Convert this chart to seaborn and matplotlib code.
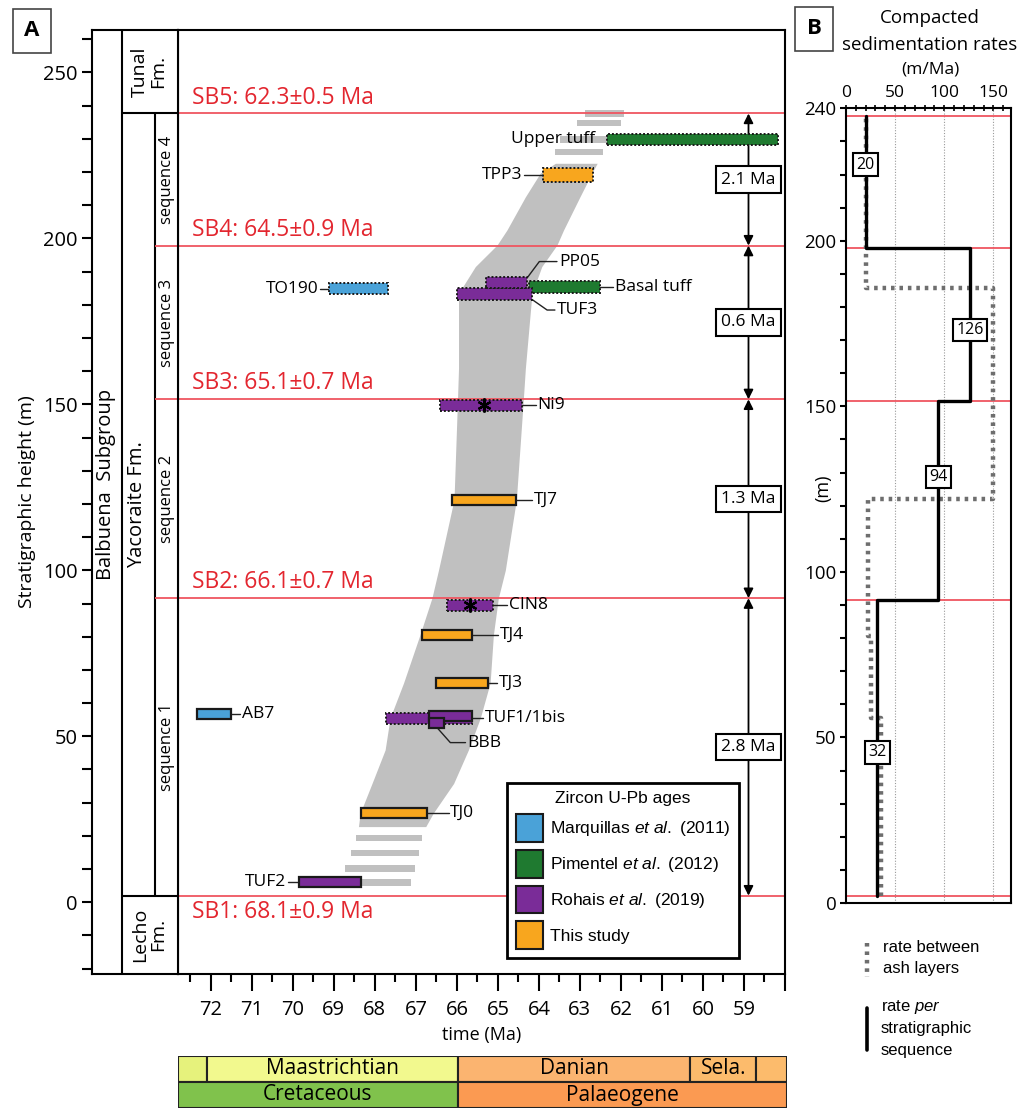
import numpy as np
import pandas as pd
import matplotlib
matplotlib.use("Agg")
import matplotlib.pyplot as plt
import seaborn as sns
from matplotlib.patches import Patch
from matplotlib.lines import Line2D

sns.set_theme(style="ticks")
plt.rcParams["font.family"] = ["Open Sans", "DejaVu Sans"]
plt.rcParams.update({
    "axes.edgecolor": "black", "xtick.color": "black", "ytick.color": "black",
    "text.color": "black", "axes.labelcolor": "black",
    "mathtext.fontset": "custom", "mathtext.rm": "Liberation Sans",
    "mathtext.it": "Liberation Sans:italic",
})

# ---------------- data ----------------
sb_heights = [2.0, 91.6, 151.5, 197.8, 237.6]
sb_labels = ["SB1: 68.1\u00b10.9 Ma", "SB2: 66.1\u00b10.7 Ma", "SB3: 65.1\u00b10.7 Ma",
             "SB4: 64.5\u00b10.9 Ma", "SB5: 62.3\u00b10.5 Ma"]
seq_names = ["sequence 1", "sequence 2", "sequence 3", "sequence 4"]
seq_durations = ["2.8 Ma", "1.3 Ma", "0.6 Ma", "2.1 Ma"]

sample_names = ["AB7", "TO190", "Upper tuff", "Basal tuff", "TUF2", "TUF1", "TUF1bis", "BBB",
                "CIN8", "Ni9", "TUF3", "PP05", "TJ0", "TJ3", "TJ4", "TJ7", "TPP3"]
sample_old = [72.33, 69.11, 62.34, 64.23, 69.84, 67.72, 66.67, 66.67,
              66.24, 66.41, 65.99, 65.29, 68.34, 66.50, 66.85, 66.11, 63.90]
sample_young = [71.50, 67.67, 58.18, 62.50, 68.34, 65.63, 65.63, 66.31,
                65.12, 64.41, 64.17, 64.28, 66.73, 65.25, 65.63, 64.55, 62.68]
sample_height = [56.6, 184.8, 229.8, 185.3, 6.0, 55.4, 56.1, 54.0,
                 89.5, 149.7, 183.2, 186.6, 26.8, 66.1, 80.6, 121.3, 219.2]
sample_source = ["Marquillas", "Marquillas", "Pimentel", "Pimentel", "Rohais", "Rohais", "Rohais", "Rohais",
                 "Rohais", "Rohais", "Rohais", "Rohais", "This study", "This study", "This study", "This study",
                 "This study"]
sample_dotted = [False, True, True, True, False, True, False, False,
                 True, True, True, True, False, False, False, False, True]
sample_label = ["AB7", "TO190", "Upper tuff", "Basal tuff", "TUF2", "TUF1/1bis", "", "BBB",
                "CIN8", "Ni9", "TUF3", "PP05", "TJ0", "TJ3", "TJ4", "TJ7", "TPP3"]
label_kind = ["r", "l", "l0", "r", "l", "r", "", "elbow",
              "r", "r", "elbow", "elbow", "r", "r", "r", "r", "l"]
leader_len = [0.22, 0.22, 0.28, 0.31, 0.28, 0.27, 0, 0, 0.35, 0.34, 0, 0, 0.53, 0.23, 0.64, 0.38, 0.46]
# elbow leaders: (start age, start height, dx diag, dy diag, dx horizontal)
elbow = {"BBB": (66.49, 52.7, 0.33, -4.6, 0.37),
         "TUF3": (64.17, 181.6, 0.37, -3.2, 0.19),
         "PP05": (64.28, 188.2, 0.29, 4.8, 0.43)}

ast_age = [65.68, 65.33]
ast_height = [89.5, 149.7]

band_h = [22.8, 26.8, 35.8, 45.9, 55.5, 66.1, 80.6, 91.6, 100.0, 121.3, 149.7, 160.9, 183.4,
          191.5, 198.0, 202.5, 212.5, 219.6, 222.6]
band_old = [68.40, 68.36, 68.07, 67.75, 67.63, 67.30, 66.90, 66.61, 66.45, 66.07, 65.99, 65.96, 65.96,
            65.55, 65.02, 64.78, 64.33, 63.97, 63.60]
band_young = [66.76, 66.58, 66.08, 65.72, 65.43, 65.19, 65.11, 64.99, 64.82, 64.55, 64.39, 64.33, 64.17,
              63.93, 63.56, 63.40, 63.00, 62.71, 62.58]
stripe_h = [6.0, 10.2, 14.8, 19.3, 226.0, 229.8, 234.8, 237.6]
stripe_old = [68.82, 68.72, 68.59, 68.45, 63.60, 63.48, 63.06, 62.87]
stripe_young = [67.12, 67.01, 66.92, 66.84, 62.43, 62.33, 61.99, 61.92]

stage_bounds = [72.8, 72.1, 66.0, 60.35, 58.75, 58.0]
stage_names = ["", "Maastrichtian", "Danian", "Sela.", ""]
stage_colors = ["#e6f27c", "#f2f98e", "#fbb470", "#fcbb6c", "#fcbb6c"]
period_bounds = [72.8, 66.0, 58.0]
period_names = ["Cretaceous", "Palaeogene"]
period_colors = ["#80c24c", "#fb9a52"]

seq_bounds = [2.0, 91.6, 151.5, 197.8, 237.6]
seq_rates = [32, 94, 126, 20]
seq_label_h = [45.5, 128.7, 173.0, 223.0]
ash_bounds = [2.0, 56.0, 80.6, 122.0, 185.6, 237.6]
ash_rates = [36, 25, 22, 150, 20]

legend_keys = ["Marquillas", "Pimentel", "Rohais", "This study"]
legend_labels = [r"Marquillas $\mathit{et\ al.}$ (2011)", r"Pimentel $\mathit{et\ al.}$ (2012)",
                 r"Rohais $\mathit{et\ al.}$ (2019)", "This study"]

# ---------------- style ----------------
src_colors = {"Marquillas": "#4aa2d8", "Pimentel": "#1f7a30", "Rohais": "#7a2c98", "This study": "#f8a61e"}
red_line = "#ef5560"
red_text = "#e3262f"
band_color = "#c0c0c0"
LW = 1.5

W, H = 1024, 1117
fig = plt.figure(figsize=(W / 100, H / 100), dpi=100)


def fax(x0, y0, x1, y1):
    return fig.add_axes([x0 / W, 1 - y1 / H, (x1 - x0) / W, (y1 - y0) / H])


ax = fax(178, 29.5, 785, 974)
axc = fax(92, 29.5, 178, 974)
axB = fax(846, 108.3, 1011, 903)
axT = fax(178, 1056, 787, 1108)

ylim = (-21.6, 262.9)
for a in (ax, axc):
    a.set_ylim(*ylim)
    for s in a.spines.values():
        s.set_linewidth(LW)
        s.set_visible(True)

# ---------------- panel A main ----------------
ax.set_xlim(72.8, 58.0)
ax.fill_betweenx(band_h, band_old, band_young, color=band_color, lw=0, zorder=1)
ax.barh(stripe_h, np.array(stripe_young) - np.array(stripe_old), left=stripe_old, height=1.9,
        color=band_color, lw=0, zorder=1)
for h in sb_heights:
    ax.axhline(h, color=red_line, lw=1.3, zorder=2)
for h, lab in zip(sb_heights, sb_labels):
    off = -4.8 if h < 10 else 4.8
    ax.text(72.46, h + off, lab, color=red_text, fontsize=16.5, ha="left", va="center", zorder=3)

for i, name in enumerate(sample_names):
    col = src_colors[sample_source[i]]
    dotted = sample_dotted[i]
    th = 3.4 if dotted else 3.0
    if name == "TPP3":
        th = 4.2
    ax.barh(sample_height[i], sample_young[i] - sample_old[i], left=sample_old[i], height=th,
            color=col, edgecolor="#1a1a1a", lw=1.4 if dotted else 1.6,
            linestyle=(0, (1, 1)) if dotted else "-", zorder=5)

ax.plot(ast_age, ast_height, ls="none", marker=(6, 2, 0), ms=10, mew=1.6, color="black", zorder=6)

for i, name in enumerate(sample_label):
    if not name:
        continue
    h, old, young, kind, L = sample_height[i], sample_old[i], sample_young[i], label_kind[i], leader_len[i]
    kw = dict(fontsize=12.5, va="center", zorder=7)
    if kind == "r":
        ax.plot([young, young - L], [h, h], color="#222", lw=1, zorder=4)
        ax.text(young - L - 0.04, h, name, ha="left", **kw)
    elif kind == "l":
        ax.plot([old, old + L], [h, h], color="#222", lw=1, zorder=4)
        ax.text(old + L + 0.04, h, name, ha="right", **kw)
    elif kind == "l0":
        ax.text(old + L, h, name, ha="right", **kw)
    else:
        x0, y0, dx, dy, dx2 = elbow[sample_names[i]]
        ax.plot([x0, x0 - dx, x0 - dx - dx2], [y0, y0 + dy, y0 + dy], color="#222", lw=1, zorder=4)
        ax.text(x0 - dx - dx2 - 0.05, y0 + dy, name, ha="left", **kw)

arrow_x = 58.89
for k in range(4):
    lo, hi = seq_bounds[k], seq_bounds[k + 1]
    ax.annotate("", xy=(arrow_x, lo), xytext=(arrow_x, hi),
                arrowprops=dict(arrowstyle="<|-|>", color="black", lw=1.3, shrinkA=0, shrinkB=0,
                                mutation_scale=14), zorder=4)
    ax.text(arrow_x, (lo + hi) / 2, seq_durations[k], ha="center", va="center", fontsize=12.5, zorder=6,
            bbox=dict(boxstyle="square,pad=0.3", fc="white", ec="black", lw=1.5))

ax.set_xticks(np.arange(58, 73, 1))
ax.set_xticklabels([str(v) if v != 58 else "" for v in range(58, 73)])
ax.set_xticks(np.arange(58.5, 73, 1), minor=True)
ax.tick_params(axis="x", which="major", direction="out", length=12, width=LW, labelsize=14.5, pad=7,
               bottom=True, top=False)
ax.tick_params(axis="x", which="minor", direction="out", length=6, width=LW, bottom=True, top=False)
ax.tick_params(axis="y", left=False, labelleft=False, right=False)
ax.set_xlabel("time (Ma)", fontsize=13, labelpad=4)

handles = [Patch(facecolor=src_colors[k], edgecolor="#1a1a1a", lw=1.5) for k in legend_keys]
leg = ax.legend(handles, legend_labels, title="Zircon U-Pb ages", loc="lower left",
                bbox_to_anchor=(0.542, 0.017), frameon=True, fancybox=False, framealpha=1,
                edgecolor="black", prop={"family": "Liberation Sans", "size": 12.5},
                title_fontproperties={"family": "Liberation Sans", "size": 12.5},
                handlelength=1.6, handleheight=2.1, handletextpad=0.35, labelspacing=0.45,
                borderpad=0.5, borderaxespad=0)
leg.get_frame().set_linewidth(2)
leg.set_zorder(8)

# ---------------- panel A stratigraphic columns ----------------
axc.set_xlim(0, 86)
axc.set_xticks([])
axc.vlines(30, ylim[0], ylim[1], color="black", lw=LW)
axc.vlines(63, sb_heights[0], sb_heights[-1], color="black", lw=LW)
axc.hlines([sb_heights[0], sb_heights[-1]], 30, 86, color="black", lw=LW)
axc.hlines(sb_heights[1:-1], 63, 86, color=red_line, lw=1.3)
axc.text(14, 126, "Balbuena  Subgroup", rotation=90, ha="center", va="center", fontsize=14.5)
axc.text(45, 119.8, "Yacoraite Fm.", rotation=90, ha="center", va="center", fontsize=14.5)
axc.text(57, 250.2, "Tunal\nFm.", rotation=90, ha="center", va="center", fontsize=14, linespacing=0.95)
axc.text(57, -9.8, "Lecho\nFm.", rotation=90, ha="center", va="center", fontsize=14, linespacing=0.95)
for k in range(4):
    axc.text(75, (seq_bounds[k] + seq_bounds[k + 1]) / 2, seq_names[k], rotation=90,
             ha="center", va="center", fontsize=12)
yt = np.arange(-20, 261, 10)
axc.set_yticks(yt)
axc.set_yticklabels([str(v) if (v % 50 == 0 and v >= 0) else "" for v in yt])
axc.tick_params(axis="y", direction="out", length=7.5, width=LW, labelsize=14.5, pad=3, left=True)
axc.set_ylabel("Stratigraphic height (m)", fontsize=14, labelpad=5)

# ---------------- panel B ----------------
axB.set_xlim(0, 168)
axB.set_ylim(0, 240)
for s in axB.spines.values():
    s.set_linewidth(LW)
    s.set_visible(True)
for g in [50, 100, 150]:
    axB.axvline(g, color="#9a9a9a", ls=(0, (1, 1.5)), lw=0.8, zorder=1)
for h in sb_heights:
    axB.axhline(h, color=red_line, lw=1.3, zorder=2)

ash_df = pd.DataFrame({
    "rate": np.repeat(ash_rates, 2),
    "height": np.column_stack([ash_bounds[:-1], ash_bounds[1:]]).ravel(),
})
seq_df = pd.DataFrame({
    "rate": np.repeat(seq_rates, 2),
    "height": np.column_stack([seq_bounds[:-1], seq_bounds[1:]]).ravel(),
})
sns.lineplot(data=ash_df, x="rate", y="height", sort=False, estimator=None, ax=axB,
             color="#6e6e6e", lw=3.2, ls=(0, (0.8, 1.1)), zorder=3)
sns.lineplot(data=seq_df, x="rate", y="height", sort=False, estimator=None, ax=axB,
             color="black", lw=2.4, zorder=4)
for r, h in zip(seq_rates, seq_label_h):
    axB.text(r, h, str(r), ha="center", va="center", fontsize=11.5, zorder=6,
             bbox=dict(boxstyle="square,pad=0.2", fc="white", ec="black", lw=1.5))
axB.set_xlabel("")
axB.set_ylabel("")
axB.xaxis.tick_top()
axB.set_xticks([0, 50, 100, 150])
axB.set_xticks(np.arange(0, 168, 10), minor=True)
axB.tick_params(axis="x", which="both", direction="inout", length=5, width=1.2, top=True, bottom=False,
                labeltop=True, labelbottom=False, labelsize=12.5, pad=3)
axB.set_yticks([0, 50, 100, 150, 200, 240])
axB.set_yticks(np.arange(0, 241, 10), minor=True)
axB.tick_params(axis="y", which="both", direction="out", length=4, width=1.5, left=True, labelsize=13.5, pad=3)

fig.text(930 / W, 1 - 18 / H, "Compacted", ha="center", va="center", fontsize=13.5)
fig.text(930 / W, 1 - 45 / H, "sedimentation rates", ha="center", va="center", fontsize=13.5)
fig.text(930 / W, 1 - 70 / H, "(m/Ma)", ha="center", va="center", fontsize=12.5)
fig.text(823 / W, 1 - 488 / H, "(m)", rotation=90, ha="center", va="center", fontsize=13)

# panel B key
fig.add_artist(Line2D([866.7 / W] * 2, [1 - 943 / H, 1 - 977 / H], color="#6e6e6e", lw=3.2,
                      ls=(0, (0.8, 1.1))))
fig.add_artist(Line2D([866.7 / W] * 2, [1 - 1008 / H, 1 - 1050 / H], color="black", lw=2.6))
kfont = {"family": "Liberation Sans", "size": 12}
fig.text(883 / W, 1 - 947 / H, "rate between", ha="left", va="center", fontdict=kfont)
fig.text(883 / W, 1 - 968 / H, "ash layers", ha="left", va="center", fontdict=kfont)
fig.text(881 / W, 1 - 1007 / H, r"rate $\mathit{per}$", ha="left", va="center", fontdict=kfont)
fig.text(881 / W, 1 - 1028 / H, "stratigraphic", ha="left", va="center", fontdict=kfont)
fig.text(881 / W, 1 - 1050 / H, "sequence", ha="left", va="center", fontdict=kfont)

# panel letters
fig.text(32 / W, 1 - 31 / H, "A", fontsize=16, fontweight="bold", ha="center", va="center",
         bbox=dict(boxstyle="square,pad=0.5", fc="white", ec="#444", lw=1.2))
fig.text(814 / W, 1 - 29 / H, "B", fontsize=16, fontweight="bold", ha="center", va="center",
         bbox=dict(boxstyle="square,pad=0.5", fc="white", ec="#444", lw=1.2))

# ---------------- time scale ----------------
axT.set_xlim(72.8, 58.0)
axT.set_ylim(0, 2)
axT.axis("off")
for k in range(len(stage_names)):
    l, r = stage_bounds[k], stage_bounds[k + 1]
    axT.barh(1.5, r - l, left=l, height=1, color=stage_colors[k], edgecolor="#222", lw=1.5)
    if stage_names[k]:
        axT.text((l + r) / 2, 1.5, stage_names[k], ha="center", va="center", fontsize=15)
for k in range(len(period_names)):
    l, r = period_bounds[k], period_bounds[k + 1]
    axT.barh(0.5, r - l, left=l, height=1, color=period_colors[k], edgecolor="#222", lw=1.5)
    axT.text((l + r) / 2, 0.5, period_names[k], ha="center", va="center", fontsize=15)

fig.savefig("out.png", dpi=100)
